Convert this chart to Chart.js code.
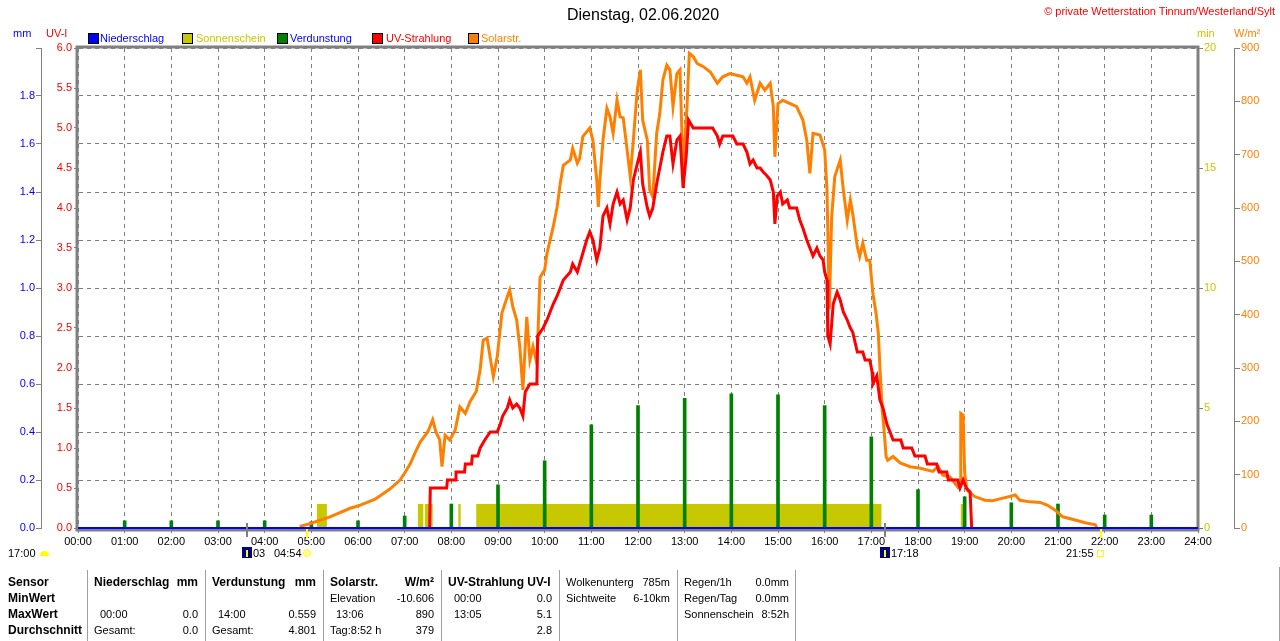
<!DOCTYPE html>
<html><head><meta charset="utf-8">
<script src="https://cdn.jsdelivr.net/npm/chart.js@4.4.0/dist/chart.umd.min.js"></script>
<style>
html,body{margin:0;padding:0;background:#fff;overflow:hidden}
#wrap{position:relative;width:1280px;height:641px;font-family:"Liberation Sans",Arial,sans-serif;font-size:11px;color:#000}
#box{position:absolute;left:0;top:0;width:1280px;height:641px}
.t{position:absolute;white-space:nowrap;line-height:11px}
.b{font-weight:bold;font-size:12px;line-height:12px}
.sq{position:absolute;width:9px;height:9px;border:1px solid #000}
.vl{position:absolute;width:1px;background:#a0a0a0}
</style></head>
<body><div id="wrap">
<div id="box"><canvas id="c"></canvas></div>

<div class="t" style="left:567px;top:7px;font-size:16px;line-height:16px">Dienstag, 02.06.2020</div>
<div class="t" style="right:5px;top:6px;color:#ff0000">© private Wetterstation Tinnum/Westerland/Sylt</div>

<div class="t" style="left:13px;top:28px;color:#0000ff">mm</div>
<div class="t" style="left:46px;top:28px;color:#ff0000">UV-I</div>
<div class="t" style="left:1197px;top:28px;color:#c8c800">min</div>
<div class="t" style="left:1234px;top:28px;color:#ff8000">W/m²</div>

<div class="sq" style="left:88px;top:33px;background:#0000ff"></div>
<div class="t" style="left:100px;top:33px;color:#0000ff">Niederschlag</div>
<div class="sq" style="left:182px;top:33px;background:#c8c800"></div>
<div class="t" style="left:196px;top:33px;color:#c8c800">Sonnenschein</div>
<div class="sq" style="left:277px;top:33px;background:#008000"></div>
<div class="t" style="left:290px;top:33px;color:#0000ff">Verdunstung</div>
<div class="sq" style="left:372px;top:33px;background:#ff0000"></div>
<div class="t" style="left:386px;top:33px;color:#ff0000">UV-Strahlung</div>
<div class="sq" style="left:468px;top:33px;background:#ff8000"></div>
<div class="t" style="left:481px;top:33px;color:#ff8000">Solarstr.</div>

<!-- astro annotations below x axis -->
<div class="t" style="left:8px;top:548px">17:00</div>
<div style="position:absolute;left:40px;top:551px;width:9px;height:5px;background:#ffff00;border-radius:5px 5px 0 0"></div>
<div style="position:absolute;left:242px;top:547px;width:10px;height:11px;background:#000080"></div>
<div style="position:absolute;left:246px;top:550px;width:2px;height:7px;background:#ffff00"></div>
<div class="t" style="left:253px;top:548px">03</div>
<div class="t" style="left:274px;top:548px">04:54</div>
<div style="position:absolute;left:303px;top:549px;width:6px;height:6px;border:1px solid #ffff00;border-radius:4px;background:#ffffa0"></div>
<div style="position:absolute;left:880px;top:547px;width:10px;height:11px;background:#000080"></div>
<div style="position:absolute;left:884px;top:550px;width:2px;height:7px;background:#ffff00"></div>
<div class="t" style="left:891px;top:548px">17:18</div>
<div class="t" style="left:1066px;top:548px">21:55</div>
<div style="position:absolute;left:1097px;top:550px;width:5px;height:5px;border:1px solid #ffff00"></div>

<!-- table -->
<div class="vl" style="left:87px;top:570px;height:71px"></div>
<div class="vl" style="left:205px;top:570px;height:71px"></div>
<div class="vl" style="left:323px;top:570px;height:71px"></div>
<div class="vl" style="left:441px;top:570px;height:71px"></div>
<div class="vl" style="left:559px;top:570px;height:71px"></div>
<div class="vl" style="left:677px;top:570px;height:71px"></div>
<div class="vl" style="left:795px;top:570px;height:71px"></div>
<div class="vl" style="left:1279px;top:567px;height:74px"></div>

<div class="t b" style="left:8px;top:576px">Sensor</div>
<div class="t b" style="left:8px;top:592px">MinWert</div>
<div class="t b" style="left:8px;top:608px">MaxWert</div>
<div class="t b" style="left:8px;top:624px">Durchschnitt</div>

<div class="t b" style="left:94px;top:576px">Niederschlag</div>
<div class="t b" style="right:1082px;top:576px">mm</div>
<div class="t" style="left:100px;top:609px">00:00</div>
<div class="t" style="right:1082px;top:609px">0.0</div>
<div class="t" style="left:94px;top:625px">Gesamt:</div>
<div class="t" style="right:1082px;top:625px">0.0</div>

<div class="t b" style="left:212px;top:576px">Verdunstung</div>
<div class="t b" style="right:964px;top:576px">mm</div>
<div class="t" style="left:218px;top:609px">14:00</div>
<div class="t" style="right:964px;top:609px">0.559</div>
<div class="t" style="left:212px;top:625px">Gesamt:</div>
<div class="t" style="right:964px;top:625px">4.801</div>

<div class="t b" style="left:330px;top:576px">Solarstr.</div>
<div class="t b" style="right:846px;top:576px">W/m²</div>
<div class="t" style="left:330px;top:593px">Elevation</div>
<div class="t" style="right:846px;top:593px">-10.606</div>
<div class="t" style="left:336px;top:609px">13:06</div>
<div class="t" style="right:846px;top:609px">890</div>
<div class="t" style="left:330px;top:625px">Tag:8:52 h</div>
<div class="t" style="right:846px;top:625px">379</div>

<div class="t b" style="left:448px;top:576px">UV-Strahlung UV-I</div>
<div class="t" style="left:454px;top:593px">00:00</div>
<div class="t" style="right:728px;top:593px">0.0</div>
<div class="t" style="left:454px;top:609px">13:05</div>
<div class="t" style="right:728px;top:609px">5.1</div>
<div class="t" style="right:728px;top:625px">2.8</div>

<div class="t" style="left:566px;top:577px">Wolkenunterg</div>
<div class="t" style="right:610px;top:577px">785m</div>
<div class="t" style="left:566px;top:593px">Sichtweite</div>
<div class="t" style="right:610px;top:593px">6-10km</div>

<div class="t" style="left:684px;top:577px">Regen/1h</div>
<div class="t" style="right:491px;top:577px">0.0mm</div>
<div class="t" style="left:684px;top:593px">Regen/Tag</div>
<div class="t" style="right:491px;top:593px">0.0mm</div>
<div class="t" style="left:684px;top:609px">Sonnenschein</div>
<div class="t" style="right:491px;top:609px">8:52h</div>
</div>

<script>
// ---------- data ----------
const solarTimes = ["04:45","04:58","05:24","05:50","06:03","06:22","06:41","06:54","07:00","07:07","07:13","07:20","07:30","07:36","07:40","07:45","07:48","07:52","07:58","08:05","08:11","08:18","08:24","08:32","08:37","08:41","08:46","08:50","08:54","08:59","09:05","09:12","09:15","09:19","09:24","09:28","09:32","09:37","09:41","09:45","09:50","09:54","10:00","10:03","10:11","10:16","10:20","10:24","10:33","10:36","10:42","10:45","10:49","10:58","11:02","11:07","11:09","11:11","11:15","11:20","11:24","11:28","11:33","11:37","11:41","11:46","11:50","11:54","11:59","12:03","12:06","12:12","12:15","12:19","12:24","12:28","12:32","12:37","12:41","12:45","12:50","12:54","12:58","13:03","13:06","13:11","13:16","13:20","13:24","13:33","13:42","13:49","13:58","14:07","14:15","14:20","14:24","14:30","14:37","14:43","14:50","14:54","14:56","15:00","15:06","15:15","15:24","15:32","15:37","15:41","15:45","15:54","16:00","16:03","16:06","16:09","16:13","16:20","16:24","16:29","16:33","16:36","16:42","16:45","16:49","16:54","16:58","17:02","17:06","17:09","17:11","17:14","17:16","17:19","17:21","17:28","17:37","17:50","18:03","18:19","18:26","18:32","18:41","18:51","18:54","18:55","18:58","19:00","19:03","19:13","19:26","19:36","19:49","19:58","20:05","20:11","20:24","20:37","20:46","20:56","21:06","21:22","21:35","21:48","21:50"];
const solarValues = [3,8,21,37,43,54,73,90,103,120,140,161,181,203,181,165,115,174,165,184,227,215,237,256,296,352,356,319,284,321,403,434,446,415,390,340,259,396,315,340,309,470,484,515,565,602,646,680,690,712,684,693,734,750,727,652,602,652,727,787,771,740,802,771,769,709,659,727,821,859,765,727,634,621,740,777,840,868,859,790,852,859,665,790,890,884,871,868,865,855,834,846,852,849,846,834,846,802,834,821,834,790,696,796,802,796,790,765,727,665,740,737,709,634,410,584,659,690,634,577,615,590,527,509,534,502,502,440,403,365,302,221,190,134,127,134,122,115,112,106,115,99,96,77,90,215,212,103,71,59,52,51,56,59,62,52,49,48,43,34,21,15,10,6,0];

const uvTimes = ["07:32","07:33","07:54","07:55","08:05","08:06","08:17","08:18","08:26","08:27","08:34","08:37","08:43","08:50","08:59","09:03","09:06","09:12","09:15","09:19","09:24","09:28","09:32","09:35","09:41","09:50","09:51","09:58","10:03","10:07","10:11","10:16","10:24","10:33","10:36","10:42","10:45","10:54","10:58","11:02","11:07","11:11","11:15","11:20","11:24","11:28","11:33","11:37","11:41","11:46","11:50","11:54","11:59","12:03","12:06","12:12","12:15","12:19","12:24","12:28","12:32","12:37","12:41","12:45","12:50","12:54","12:58","13:02","13:05","13:11","13:36","13:42","13:45","13:49","14:02","14:07","14:15","14:20","14:24","14:28","14:33","14:37","14:41","14:46","14:50","14:54","14:56","14:59","15:03","15:06","15:12","15:15","15:24","15:28","15:32","15:37","15:41","15:45","15:50","15:54","15:58","16:00","16:03","16:04","16:07","16:11","16:16","16:20","16:24","16:29","16:33","16:36","16:42","16:49","16:52","16:58","17:01","17:02","17:07","17:11","17:15","17:20","17:24","17:28","17:38","17:41","17:52","17:56","18:09","18:12","18:24","18:27","18:37","18:39","18:51","18:54","18:58","19:02","19:07","19:08","19:09"];
const uvValues = [0,0.5,0.5,0.6,0.6,0.7,0.7,0.8,0.8,0.9,0.9,1.0,1.1,1.2,1.2,1.3,1.4,1.5,1.6,1.5,1.55,1.5,1.4,1.7,1.8,1.8,2.4,2.5,2.6,2.7,2.8,2.9,3.1,3.2,3.3,3.2,3.3,3.6,3.7,3.6,3.35,3.5,3.9,4.0,3.8,4.05,4.2,4.05,4.1,3.85,4.0,4.35,4.55,4.7,4.3,4.0,3.9,4.0,4.3,4.5,4.7,4.9,4.9,4.55,4.85,4.9,4.25,4.65,5.1,5.0,5.0,4.9,4.8,4.9,4.9,4.8,4.8,4.7,4.55,4.6,4.5,4.5,4.45,4.4,4.35,4.2,3.8,4.15,4.2,4.05,4.1,4.0,4.0,3.85,3.75,3.6,3.5,3.4,3.5,3.4,3.35,3.2,3.1,2.4,2.3,2.8,2.95,2.85,2.7,2.6,2.5,2.45,2.2,2.2,2.1,2.1,1.95,1.8,1.9,1.6,1.5,1.3,1.2,1.1,1.1,1.0,1.0,0.9,0.9,0.8,0.8,0.7,0.7,0.6,0.6,0.5,0.6,0.5,0.45,0.45,0];

const sunStart = ["05:07","07:17","07:26","08:09","08:32","18:55"];
const sunEnd   = ["05:20","07:24","07:36","08:12","17:13","18:58"];
const sunMinutes = [1,1,1,1,1,1];

const evapTimes  = ["01:00","02:00","03:00","04:00","05:00","06:00","07:00","08:00","09:00","10:00","11:00","12:00","13:00","14:00","15:00","16:00","17:00","18:00","19:00","20:00","21:00","22:00","23:00"];
const evapValues = [0.03,0.03,0.03,0.03,0.026,0.03,0.05,0.10,0.18,0.28,0.43,0.51,0.54,0.559,0.555,0.51,0.38,0.16,0.13,0.105,0.10,0.054,0.054];

const rainTimes  = ["00:00","24:00"];
const rainValues = [0.0,0.0];

const sunTicks  = ["04:54","21:55"];   // sunrise / sunset
const moonTicks = ["03:37","17:17"];   // moonset / moonrise

// ---------- helpers ----------
const toH = s => { const p = s.split(':'); return +p[0] + (+p[1]) / 60; };
const pts = (ts, vs) => ts.map((t, i) => ({x: toH(t), y: vs[i]}));
const sunPts = [];
sunStart.forEach((s, i) => {
  const a = toH(s), b = toH(sunEnd[i]);
  sunPts.push({x:a,y:0},{x:a,y:sunMinutes[i]},{x:b,y:sunMinutes[i]},{x:b,y:0});
});

const GREY = '#808080';
Chart.defaults.font.family = '"Liberation Sans", Arial, sans-serif';
Chart.defaults.font.size = 11;

const frame = {
  id: 'frame',
  beforeDatasetsDraw(chart) {
    const {ctx, chartArea: a} = chart;
    ctx.save();
    ctx.strokeStyle = GREY; ctx.lineWidth = 3;
    ctx.strokeRect(a.left - 1, a.top - 1, a.right - a.left + 1, a.bottom - a.top + 3);
    ctx.restore();
  },
  afterDraw(chart) {
    const {ctx, chartArea: a, scales} = chart;
    ctx.save();
    ctx.fillStyle = '#ffff00';
    sunTicks.forEach(t => { const x = scales.x.getPixelForValue(toH(t)); ctx.fillRect(Math.round(x) - 1, a.bottom + 1, 2, 9); });
    ctx.fillStyle = GREY;
    moonTicks.forEach(t => { const x = scales.x.getPixelForValue(toH(t)); ctx.fillRect(Math.round(x) - 1, a.bottom - 5, 2, 14); });
    ctx.restore();
  }
};

const side = (w) => function(s){ s.width = w; };

new Chart(document.getElementById('c'), {
  data: {
    datasets: [
      {type:'line', label:'Niederschlag', data: pts(rainTimes, rainValues), yAxisID:'yMM', borderColor:'#0000ff', borderWidth:2, pointRadius:0, clip:false, order:0},
      {type:'line', label:'UV-Strahlung', data: pts(uvTimes, uvValues), yAxisID:'yUV', borderColor:'#ff0000', borderWidth:3, pointRadius:0, tension:0, order:1},
      {type:'line', label:'Solarstr.', data: pts(solarTimes, solarValues), yAxisID:'ySol', borderColor:'#ff8000', borderWidth:3, pointRadius:0, tension:0, order:2},
      {type:'bar', label:'Verdunstung', data: pts(evapTimes, evapValues), yAxisID:'yMM', backgroundColor:'#008000', barThickness:3, order:3},
      {type:'line', label:'Sonnenschein', data: sunPts, yAxisID:'ySun', borderWidth:0, borderColor:'rgba(0,0,0,0)', backgroundColor:'#c8c800', fill:'origin', pointRadius:0, tension:0, order:4}
    ]
  },
  options: {
    responsive: true, maintainAspectRatio: false, animation: false, events: [],
    layout: {padding: {top: 48, bottom: 93, left: 0, right: 0}},
    plugins: {legend: {display:false}, tooltip: {enabled:false}, title:{display:false}},
    scales: {
      x: {type:'linear', position:'bottom', min:0, max:24, offset:false,
        ticks:{stepSize:1, autoSkip:false, maxRotation:0, color:'#000', padding:2,
               callback: v => (v < 10 ? '0' : '') + v + ':00'},
        grid:{offset:false, color:GREY, lineWidth:1, drawOnChartArea:true, drawTicks:true, tickLength:5},
        border:{display:false, dash:[4,4]},
        afterFit: s => { s.height = 20; }},
      yUV: {type:'linear', position:'left', weight:0, min:0, max:6,
        ticks:{stepSize:0.5, color:'#ff0000', padding:2, callback: v => v.toFixed(1)},
        grid:{drawOnChartArea:false, color:GREY, tickLength:4},
        border:{display:false},
        afterFit: side(37)},
      yMM: {type:'linear', position:'left', weight:1, min:0, max:2,
        ticks:{stepSize:0.2, color:'#0000ff', padding:1, callback: v => (Math.abs(v-2) < 1e-6 ? '' : v.toFixed(1))},
        grid:{drawOnChartArea:true, color:GREY, lineWidth:1, tickLength:5},
        border:{display:true, color:GREY, width:1, dash:[4,4]},
        afterFit: side(41)},
      ySun: {type:'linear', position:'right', weight:0, min:0, max:20,
        ticks:{stepSize:5, color:'#c8c800', padding:1},
        grid:{drawOnChartArea:false, color:GREY, tickLength:5},
        border:{display:false},
        afterFit: side(36)},
      ySol: {type:'linear', position:'right', weight:1, min:0, max:900,
        ticks:{stepSize:100, color:'#ff8000', padding:1},
        grid:{drawOnChartArea:false, color:GREY, tickLength:6},
        border:{display:true, color:GREY, width:1},
        afterFit: side(46)}
    }
  },
  plugins: [frame]
});
</script>
</body></html>
